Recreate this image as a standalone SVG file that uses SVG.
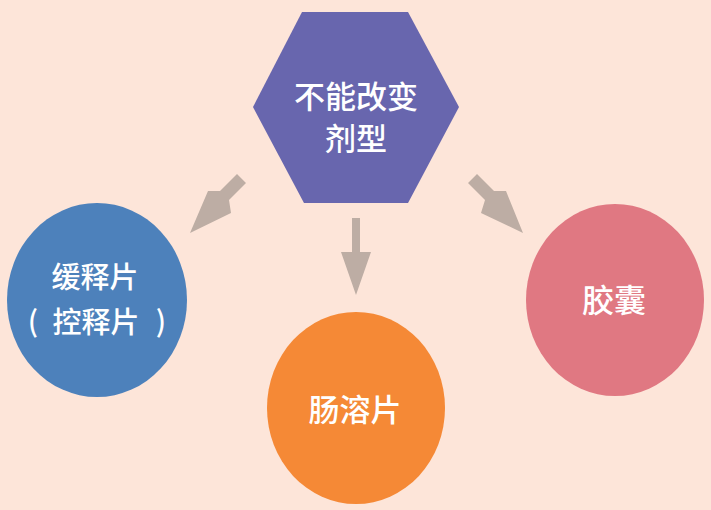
<svg xmlns="http://www.w3.org/2000/svg" width="711" height="510" viewBox="0 0 711 510">
<style>
.t{font-family:"Noto Sans CJK SC","Noto Sans",sans-serif;fill:#ffffff;text-anchor:middle;font-weight:500}
.a{fill:#bdada4}
</style>
<rect width="711" height="510" fill="#fde5d9"/>
<g id="center">
<polygon points="302,12 408,12 459,107 408,203 304,203 253,107" fill="#6866ae"/>
<text class="t" x="356" y="108" font-size="31">不能改变</text>
<text class="t" x="356" y="150" font-size="31">剂型</text>
</g>
<g id="connectors">
<polygon class="a" points="237,174 246,183 229,200 231,213 190,233 208,191 220,191"/>
<polygon class="a" points="352,218 360,218 360,252 371,252 356,295 341,252 352,252"/>
<polygon class="a" points="468,183 477,174 494,191 506,191 523,233 481,213 485,200"/>
</g>
<g id="slow">
<ellipse cx="97" cy="300" rx="90" ry="97" fill="#4d81bb"/>
<text class="t" x="95" y="288" font-size="29">缓释片</text>
<text class="t" x="96" y="333" font-size="29">控释片</text>
<text class="t" x="33" y="332" font-size="29">(</text>
<text class="t" x="161" y="332" font-size="29">)</text>
</g>
<g id="enteric">
<ellipse cx="356" cy="408" rx="89" ry="96" fill="#f58936"/>
<text class="t" x="355" y="421" font-size="31">肠溶片</text>
</g>
<g id="capsule">
<ellipse cx="615" cy="300" rx="89" ry="96" fill="#e07882"/>
<text class="t" x="614" y="312" font-size="32">胶囊</text>
</g>
</svg>
